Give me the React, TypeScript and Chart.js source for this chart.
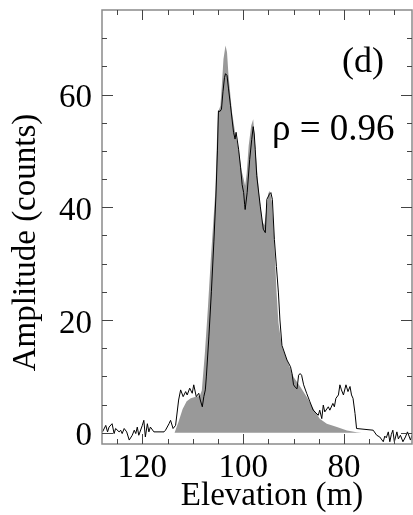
import React, { useEffect, useRef } from "react";
import { Chart, registerables } from "chart.js";

Chart.register(...registerables);

// Measured waveform (black line): elevation (m) and amplitude (counts)
const measElev = [
  127.9, 127.25, 126.9, 126.6, 126.0, 125.6, 125.3, 124.6, 124.3, 124.0,
  123.6, 123.1, 122.6, 122.0, 121.6, 121.3, 121.0, 120.7, 120.0, 119.7,
  119.4, 119.0, 118.7, 118.4, 117.7, 115.7, 115.4, 114.7, 114.4, 113.9,
  113.4, 112.8, 112.4, 111.9, 111.4, 111.1, 110.6, 110.1, 109.8, 109.3,
  108.8, 108.5, 108.1, 107.8, 107.5, 107.3, 106.8, 106.3, 105.8, 105.4,
  105.1, 104.9, 104.6, 104.3, 104.0, 103.7, 103.5, 103.2, 102.9, 102.5,
  101.9, 101.6, 101.4, 100.9, 100.5, 100.2, 99.9, 99.7, 99.6, 99.2,
  98.7, 98.3, 98.0, 97.8, 97.6, 97.3, 96.6, 96.0, 95.6, 95.3,
  94.8, 94.5, 94.2, 93.8, 93.4, 93.0, 92.7, 92.3, 91.3, 90.6,
  90.3, 90.0, 89.6, 89.3, 89.0, 88.7, 88.4, 88.0, 87.4, 86.8,
  86.1, 85.1, 84.8, 84.4, 84.1, 83.8, 83.1, 82.8, 82.2, 81.9,
  81.6, 81.1, 80.8, 80.5, 80.1, 79.6, 79.2, 78.8, 78.5, 78.2,
  77.8, 77.5, 74.2, 73.5, 72.9, 72.2, 71.9, 71.6, 71.2, 70.9,
  70.6, 70.3, 70.0, 69.5, 69.2, 68.8, 68.3, 67.8, 67.4, 66.8, 66.5,
];
const measAmp = [
  0.15, 1.3, 0.15, 1.0, 1.6, -0.15, 0.75, 0.15, 0.45, -0.15,
  0.75, 0.15, -1.3, -0.45, 0.45, -0.15, 1.0, -0.45, 1.3, 2.2,
  -0.75, 1.6, 0.15, 1.0, 0.15, 0.15, 0.45, 1.6, 2.2, 0.75,
  1.3, 5.8, 7.6, 6.4, 7.3, 6.7, 7.9, 7.0, 8.5, 6.4,
  7.0, 5.8, 4.6, 6.4, 7.6, 9.9, 17, 25, 34, 42,
  50, 57.1, 57.0, 57.4, 60.5, 63, 63.7, 63.4, 61, 58,
  53.3, 52.1, 53.3, 50.3, 47, 44, 42.6, 40.5, 39.6, 42.6,
  48.5, 52, 54.3, 53, 50.3, 45.6, 40.2, 36.1, 35.5, 41.4,
  42.3, 42.6, 41.4, 34.3, 29.5, 24.8, 20, 15.5, 12.9, 11.7,
  10.5, 8.5, 8.0, 7.8, 10.2, 10.5, 10.2, 8.5, 7.0, 5.6,
  4.0, 3.1, 4.0, 2.5, 4.9, 3.7, 4.6, 4.0, 5.2, 4.6,
  6.1, 6.7, 8.5, 7.6, 6.7, 8.5, 7.3, 8.2, 6.7, 6.1,
  3.4, 0.75, 0.45, -0.45, -0.75, -1.6, -0.6, -0.9, 0.15, -1.6,
  -0.3, 0.45, -1.6, 0.15, -1.1, -0.45, -1.6, -0.75, 0.15, -1.3, -0.45,
];

// Modelled waveform (grey filled area)
const modelElev = [
  128, 113.6, 112.8, 112.0, 111.2, 110.4, 109.4, 108.6, 108.2, 107.6,
  107.0, 106.4, 105.8, 105.5, 105.2, 105.0, 104.5, 104.2, 103.9, 103.5,
  103.2, 102.9, 102.2, 101.6, 100.9, 100.3, 99.9, 99.6, 99.3, 98.9,
  98.4, 98.0, 97.7, 97.3, 96.8, 96.2, 95.8, 95.4, 95.0, 94.7,
  94.3, 93.9, 93.6, 93.4, 93.0, 92.3, 91.3, 90.0, 88.7, 87.4,
  86.1, 84.8, 83.4, 81.4, 79.4, 77.5, 76.5, 66.5,
];
const modelAmp = [
  0, 0, 2.0, 4.2, 5.6, 6.1, 6.4, 6.5, 7.5, 14,
  22, 31, 39, 43, 52, 56.8, 58, 62, 66.3, 68.7,
  67.5, 63.4, 56.8, 53.3, 50.3, 46.5, 45, 43.8, 46, 50.9,
  54.5, 55.6, 52, 47.3, 42, 37.5, 36.8, 39.5, 42.5, 42.9,
  41, 35.5, 29.5, 25.4, 19.5, 15.3, 12.9, 9.9, 8.2, 6.4,
  4.3, 2.5, 1.6, 1.0, 0.4, 0.1, 0, 0,
];

const xMajor = [120, 100, 80];
const xMinor = [125, 115, 110, 105, 95, 90, 85, 75, 70];
const yMajor = [0, 20, 40, 60];
const yMinor = [5, 10, 15, 25, 30, 35, 45, 50, 55, 65, 70];

const xTitle = "Elevation (m)";
const yTitle = "Amplitude (counts)";
const panelText = "(d)";
const rhoText = "ρ = 0.96";

const SERIF = '"Liberation Serif", "Times New Roman", serif';

const framePlugin = {
  id: "frameTicks",
  afterDatasetsDraw(chart: any) {
    const { ctx, chartArea: a, scales } = chart;
    const xs = scales.x;
    const ys = scales.y;
    ctx.save();
    ctx.strokeStyle = "#8a8a8a";
    ctx.lineWidth = 1.5;
    ctx.strokeRect(a.left, a.top, a.right - a.left, a.bottom - a.top);
    ctx.strokeStyle = "#444";
    ctx.lineWidth = 1;
    const drawX = (vals: number[], len: number) => {
      vals.forEach((v) => {
        const px = Math.round(xs.getPixelForValue(v)) + 0.5;
        ctx.beginPath();
        ctx.moveTo(px, a.bottom);
        ctx.lineTo(px, a.bottom - len);
        ctx.moveTo(px, a.top);
        ctx.lineTo(px, a.top + len);
        ctx.stroke();
      });
    };
    const drawY = (vals: number[], len: number) => {
      vals.forEach((v) => {
        const py = Math.round(ys.getPixelForValue(v)) + 0.5;
        ctx.beginPath();
        ctx.moveTo(a.left, py);
        ctx.lineTo(a.left + len, py);
        ctx.moveTo(a.right, py);
        ctx.lineTo(a.right - len, py);
        ctx.stroke();
      });
    };
    drawX(xMajor, 10);
    drawX(xMinor, 5);
    drawY(yMajor, 11);
    drawY(yMinor, 5);
    ctx.restore();
  },
  afterDraw(chart: any) {
    const { ctx } = chart;
    ctx.save();
    ctx.fillStyle = "#000";
    ctx.textBaseline = "alphabetic";
    ctx.font = `33px ${SERIF}`;
    ctx.textAlign = "center";
    ctx.fillText(xTitle, 272, 505);
    ctx.save();
    ctx.translate(35, 242.5);
    ctx.rotate(-Math.PI / 2);
    ctx.fillText(yTitle, 0, 0);
    ctx.restore();
    ctx.font = `36px ${SERIF}`;
    ctx.fillText(panelText, 363, 72);
    ctx.font = `37px ${SERIF}`;
    ctx.textAlign = "left";
    ctx.fillText(rhoText, 272, 140);
    ctx.restore();
  },
};

export default function App() {
  const ref = useRef<HTMLCanvasElement | null>(null);
  useEffect(() => {
    if (!ref.current) return;
    const measured = measElev.map((x, i) => ({ x, y: measAmp[i] }));
    const model = modelElev.map((x, i) => ({ x, y: modelAmp[i] }));
    const chart = new Chart(ref.current, {
      type: "line",
      data: {
        datasets: [
          {
            label: "measured",
            data: measured,
            borderColor: "#000",
            borderWidth: 1,
            pointRadius: 0,
            fill: false,
            tension: 0,
          },
          {
            label: "model",
            data: model,
            borderColor: "rgba(0,0,0,0)",
            borderWidth: 0,
            backgroundColor: "#999999",
            pointRadius: 0,
            fill: "origin",
            tension: 0,
          },
        ],
      },
      options: {
        animation: false,
        responsive: false,
        maintainAspectRatio: false,
        layout: { padding: { top: 10, right: 1, left: 0, bottom: 0 } },
        plugins: {
          legend: { display: false },
          tooltip: { enabled: false },
          title: { display: false },
        },
        scales: {
          x: {
            type: "linear",
            reverse: true,
            min: 66.5,
            max: 128,
            grid: { display: false, drawTicks: false },
            border: { display: false },
            afterBuildTicks: (s: any) => {
              s.ticks = xMajor.map((v) => ({ value: v }));
            },
            afterFit: (s: any) => {
              s.height = 71;
              s.paddingLeft = 0;
              s.paddingRight = 0;
              s.paddingTop = 0;
              s.paddingBottom = 0;
            },
            ticks: {
              autoSkip: false,
              maxRotation: 0,
              color: "#000",
              padding: 5,
              font: { family: SERIF, size: 33 },
              callback: (v: any) => String(v),
            },
          },
          y: {
            type: "linear",
            min: -2,
            max: 75,
            grid: { display: false, drawTicks: false },
            border: { display: false },
            afterBuildTicks: (s: any) => {
              s.ticks = yMajor.map((v) => ({ value: v }));
            },
            afterFit: (s: any) => {
              s.width = 102;
              s.paddingLeft = 0;
              s.paddingRight = 0;
              s.paddingTop = 0;
              s.paddingBottom = 0;
            },
            ticks: {
              color: "#000",
              padding: 10,
              labelOffset: 4,
              font: { family: SERIF, size: 33 },
              callback: (v: any) => String(v),
            },
          },
        },
      },
      plugins: [framePlugin],
    });
    return () => chart.destroy();
  }, []);
  return (
    <div style={{ position: "absolute", left: 0, top: 0, width: 413, height: 515 }}>
      <canvas ref={ref} width={413} height={515} style={{ width: 413, height: 515, display: "block" }} />
    </div>
  );
}
